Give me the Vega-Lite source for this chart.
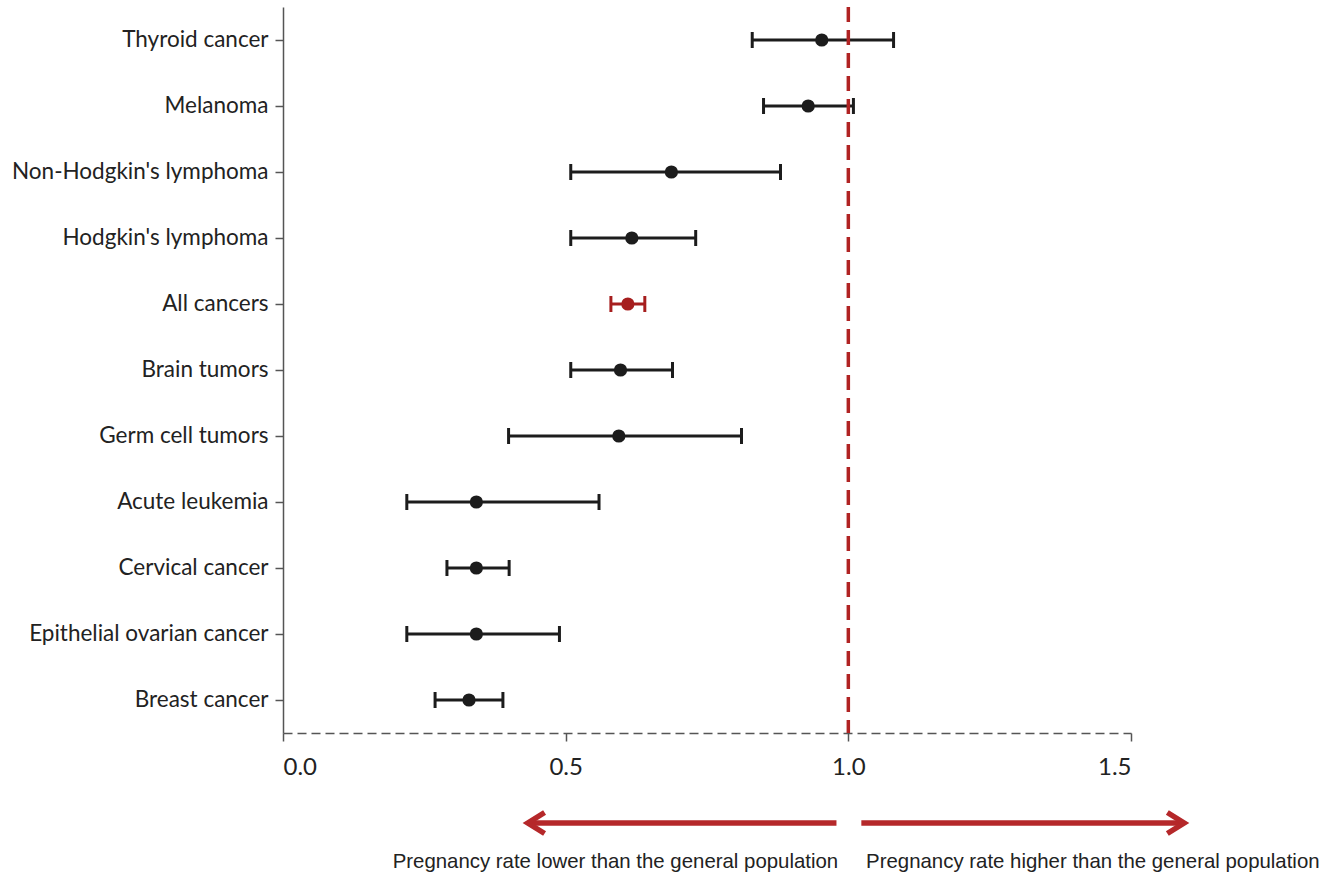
{
  "$schema": "https://vega.github.io/schema/vega-lite/v6.json",
  "width": 848,
  "height": 726,
  "autosize": {"type": "none"},
  "padding": {"left": 283, "top": 7, "right": 194, "bottom": 146},
  "background": "white",
  "config": {"view": {"stroke": null}, "font": "Lato"},
  "datasets": {
    "rows": [
      {"cancer": "Thyroid cancer", "low": 0.83, "est": 0.953, "high": 1.08, "group": "type"},
      {"cancer": "Melanoma", "low": 0.85, "est": 0.929, "high": 1.009, "group": "type"},
      {"cancer": "Non-Hodgkin's lymphoma", "low": 0.509, "est": 0.687, "high": 0.88, "group": "type"},
      {"cancer": "Hodgkin's lymphoma", "low": 0.509, "est": 0.617, "high": 0.73, "group": "type"},
      {"cancer": "All cancers", "low": 0.58, "est": 0.61, "high": 0.64, "group": "all"},
      {"cancer": "Brain tumors", "low": 0.509, "est": 0.597, "high": 0.689, "group": "type"},
      {"cancer": "Germ cell tumors", "low": 0.399, "est": 0.594, "high": 0.811, "group": "type"},
      {"cancer": "Acute leukemia", "low": 0.219, "est": 0.342, "high": 0.559, "group": "type"},
      {"cancer": "Cervical cancer", "low": 0.29, "est": 0.342, "high": 0.4, "group": "type"},
      {"cancer": "Epithelial ovarian cancer", "low": 0.219, "est": 0.342, "high": 0.489, "group": "type"},
      {"cancer": "Breast cancer", "low": 0.269, "est": 0.329, "high": 0.389, "group": "type"}
    ],
    "arrows": [
      {"dir": "left", "tip": 0.433, "x0": 0.438, "x1": 0.979, "ay": -0.124, "label": "Pregnancy rate lower than the general population", "lx": 0.588, "ly": -0.178},
      {"dir": "right", "tip": 1.594, "x0": 1.023, "x1": 1.589, "ay": -0.124, "label": "Pregnancy rate higher than the general population", "lx": 1.4325, "ly": -0.178}
    ]
  },
  "resolve": {"scale": {"y": "independent"}},
  "layer": [
    {
      "data": {"name": "rows"},
      "encoding": {
        "y": {
          "field": "cancer",
          "type": "nominal",
          "sort": ["Thyroid cancer", "Melanoma", "Non-Hodgkin's lymphoma", "Hodgkin's lymphoma", "All cancers", "Brain tumors", "Germ cell tumors", "Acute leukemia", "Cervical cancer", "Epithelial ovarian cancer", "Breast cancer"],
          "scale": {"type": "band", "paddingInner": 0, "paddingOuter": 0},
          "axis": {
            "title": null,
            "domainColor": "#555555",
            "domainWidth": 1.5,
            "tickColor": "#555555",
            "tickWidth": 1.5,
            "tickSize": 8,
            "labelFont": "Lato",
            "labelFontSize": 22.5,
            "labelColor": "#222222",
            "labelPadding": 7,
            "labelLimit": 0,
            "grid": false
          }
        },
        "color": {
          "field": "group",
          "type": "nominal",
          "scale": {"domain": ["type", "all"], "range": ["#1c1c1c", "#a61e1e"]},
          "legend": null
        }
      },
      "layer": [
        {
          "mark": {"type": "rule", "strokeWidth": 3},
          "encoding": {
            "x": {
              "field": "low",
              "type": "quantitative",
              "scale": {"domain": [0, 1.5], "nice": false, "zero": false},
              "axis": {
                "title": null,
                "values": [0, 0.5, 1, 1.5],
                "format": ".1f",
                "domainColor": "#555555",
                "domainWidth": 1.5,
                "domainDash": [9, 5],
                "tickColor": "#555555",
                "tickWidth": 1.5,
                "tickSize": 8,
                "labelFont": "Lato",
                "labelFontSize": 24,
                "labelColor": "#222222",
                "labelPadding": 14,
                "grid": false
              }
            },
            "x2": {"field": "high"}
          }
        },
        {
          "mark": {"type": "tick", "thickness": 3, "size": 16, "opacity": 1},
          "encoding": {"x": {"field": "low", "type": "quantitative", "scale": {"domain": [0, 1.5], "nice": false}}}
        },
        {
          "mark": {"type": "tick", "thickness": 3, "size": 16, "opacity": 1},
          "encoding": {"x": {"field": "high", "type": "quantitative", "scale": {"domain": [0, 1.5], "nice": false}}}
        },
        {
          "mark": {"type": "point", "filled": true, "size": 175, "opacity": 1, "shape": "circle"},
          "encoding": {"x": {"field": "est", "type": "quantitative", "scale": {"domain": [0, 1.5], "nice": false}}}
        }
      ]
    },
    {
      "data": {"values": [{"ref": 1}]},
      "mark": {"type": "rule", "color": "#b02323", "strokeWidth": 3.5, "strokeDash": [15, 8]},
      "encoding": {"x": {"field": "ref", "type": "quantitative", "scale": {"domain": [0, 1.5], "nice": false}}}
    },
    {
      "data": {"name": "arrows"},
      "layer": [
        {
          "mark": {"type": "rule", "color": "#b5282a", "strokeWidth": 5.5},
          "encoding": {
            "x": {"field": "x0", "type": "quantitative", "scale": {"domain": [0, 1.5], "nice": false}},
            "x2": {"field": "x1"},
            "y": {"field": "ay", "type": "quantitative", "scale": {"domain": [0, 1], "nice": false, "zero": false}, "axis": null}
          }
        },
        {
          "mark": {"type": "point", "filled": false, "color": "#b5282a", "strokeWidth": 5.5, "size": 441, "opacity": 1, "strokeJoin": "miter"},
          "encoding": {
            "x": {"field": "tip", "type": "quantitative", "scale": {"domain": [0, 1.5], "nice": false}},
            "y": {"field": "ay", "type": "quantitative", "scale": {"domain": [0, 1], "nice": false, "zero": false}, "axis": null},
            "shape": {
              "field": "dir",
              "type": "nominal",
              "scale": {"domain": ["left", "right"], "range": ["M 1.6 -1 L 0 0 L 1.6 1", "M -1.6 -1 L 0 0 L -1.6 1"]},
              "legend": null
            }
          }
        },
        {
          "mark": {"type": "text", "font": "Liberation Sans", "fontSize": 20.4, "color": "#222222", "align": "center", "baseline": "middle"},
          "encoding": {
            "x": {"field": "lx", "type": "quantitative", "scale": {"domain": [0, 1.5], "nice": false}},
            "y": {"field": "ly", "type": "quantitative", "scale": {"domain": [0, 1], "nice": false, "zero": false}, "axis": null},
            "text": {"field": "label"}
          }
        }
      ]
    }
  ]
}
